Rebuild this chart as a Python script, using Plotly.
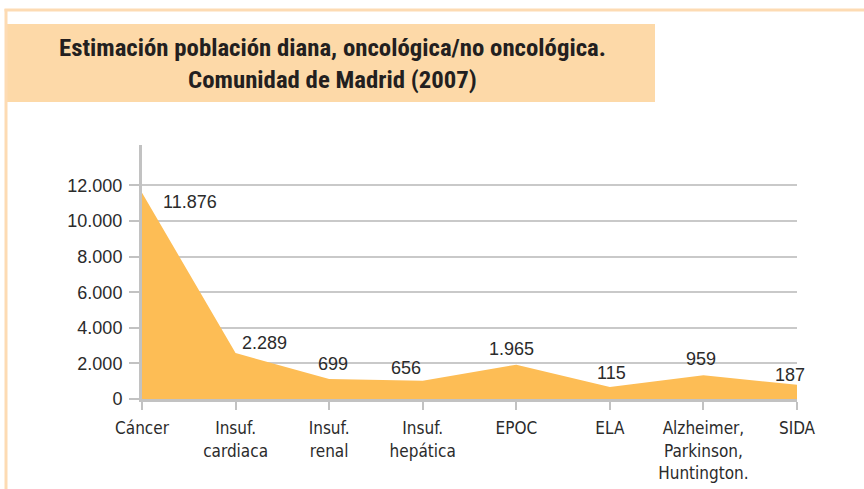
import plotly.graph_objects as go

# ---- data -------------------------------------------------------------
categories = ["Cáncer", "Insuf.<br>cardiaca", "Insuf.<br>renal", "Insuf.<br>hepática",
              "EPOC", "ELA", "Alzheimer,<br>Parkinson,<br>Huntington.", "SIDA"]
# values printed on the chart
label_values = [11876, 2289, 699, 656, 1965, 115, 959, 187]
# heights of the drawn area
area_values = [11590, 2580, 1120, 1030, 1930, 670, 1330, 800]
y_ticks = [0, 2000, 4000, 6000, 8000, 10000, 12000]

# ---- layout geometry (pixels) -----------------------------------------
FW, FH = 864, 489
L, R, T, B = 142, 67, 145, 90
PW, PH = FW - L - R, FH - T - B


def px(x):
    return (x - L) / PW


def py(y):
    return (FH - B - y) / PH


NARROW = "Roboto Condensed, DejaVu Sans Condensed, sans-serif"
COND = "DejaVu Sans Condensed, Roboto Condensed, sans-serif"
SANS = "Liberation Sans, Arial, sans-serif"
TXT = "#2b2b2b"
GRID = "#c9c9c9"
AXIS = "#c2c2c2"

xs = list(range(len(categories)))

fig = go.Figure()
fig.add_trace(go.Scatter(
    x=xs, y=area_values, mode="lines", fill="tozeroy",
    line=dict(color="#fdbd55", width=0), fillcolor="#fdbd55",
    hoverinfo="skip", showlegend=False,
))

shifts = [(48, -9), (29, 10), (4, 15), (-17, 13), (-5, 16), (2, 14), (-2, 16), (-7, 10)]
annotations = []
for i, (v, a) in enumerate(zip(label_values, area_values)):
    dx, dy = shifts[i]
    annotations.append(dict(
        x=i, y=a, xref="x", yref="y", text=f"{v:,}".replace(",", "."),
        showarrow=False, xshift=dx, yshift=dy,
        font=dict(family=SANS, size=18, color=TXT),
    ))

annotations.append(dict(
    x=px(332), y=py(64), xref="paper", yref="paper",
    text="Estimación población diana, oncológica/no oncológica.<br>Comunidad de Madrid (2007)",
    showarrow=False, align="center", xanchor="center", yanchor="middle",
    font=dict(family=NARROW, size=24.8, color="#231f20", weight="bold"),
))

shapes = [
    # title box
    dict(type="rect", xref="paper", yref="paper", x0=px(6), x1=px(655), y0=py(102), y1=py(24),
         fillcolor="#fdd9a8", line=dict(width=0), layer="below"),
    # frame
    dict(type="line", xref="paper", yref="paper", x0=px(4.5), x1=px(866), y0=py(10), y1=py(10),
         line=dict(color="#fddbb3", width=3)),
    dict(type="line", xref="paper", yref="paper", x0=px(6), x1=px(6), y0=py(9), y1=py(492),
         line=dict(color="#fddbb3", width=3)),
]

fig.update_layout(
    width=FW, height=FH,
    margin=dict(l=L, r=R, t=T, b=B, pad=0, autoexpand=False),
    paper_bgcolor="white", plot_bgcolor="white",
    separators=",.",
    showlegend=False,
    annotations=annotations,
    shapes=shapes,
    xaxis=dict(
        range=[0, 7], tickmode="array", tickvals=xs, ticktext=categories,
        showgrid=False, zeroline=False, automargin=False,
        showline=True, linecolor=AXIS, linewidth=3,
        ticks="outside", ticklen=8, tickwidth=2, tickcolor=AXIS,
        tickfont=dict(family=COND, size=17, color=TXT),
        ticklabelstandoff=4, fixedrange=True,
    ),
    yaxis=dict(
        range=[0, 14270], tickmode="array", tickvals=y_ticks, tickformat=",d",
        showgrid=True, gridcolor=GRID, gridwidth=2, zeroline=False, automargin=False,
        showline=True, linecolor=AXIS, linewidth=3,
        ticks="outside", ticklen=10, tickwidth=2, tickcolor=AXIS,
        tickfont=dict(family=SANS, size=18, color=TXT),
        ticklabelstandoff=3, fixedrange=True,
    ),
)

fig.write_html("out.html", config={"displayModeBar": False},
               post_script="document.body.style.margin='0';")
